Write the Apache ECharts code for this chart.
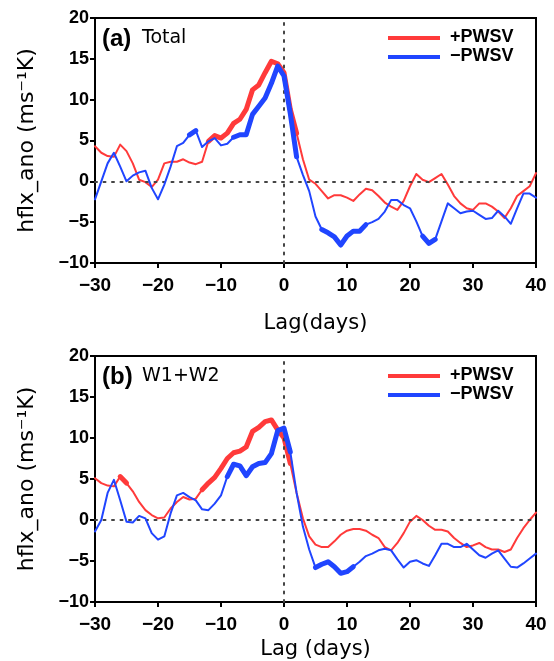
<!DOCTYPE html>
<html><head><meta charset="utf-8">
<script src="https://cdn.jsdelivr.net/npm/echarts@6/dist/echarts.min.js"></script>
<style>html,body{margin:0;padding:0;background:#fff}#c{width:554px;height:661px}</style>
</head><body><div id="c"></div>
<script>
// Lag (days)
const lags = [-30,-29,-28,-27,-26,-25,-24,-23,-22,-21,-20,-19,-18,-17,-16,-15,-14,-13,-12,-11,-10,-9,-8,-7,-6,-5,-4,-3,-2,-1,0,1,2,3,4,5,6,7,8,9,10,11,12,13,14,15,16,17,18,19,20,21,22,23,24,25,26,27,28,29,30,31,32,33,34,35,36,37,38,39,40];
const xTicks = [-30,-20,-10,0,10,20,30,40];
const yTicks = [-10,-5,0,5,10,15,20];

// (a) Total
const totalPos = [4.3,3.5,3.1,3.0,4.5,3.7,2.2,0.2,-0.1,-0.7,0.2,2.2,2.4,2.4,2.7,2.3,2.1,2.4,4.9,5.6,5.3,5.9,7.1,7.6,8.8,11.2,11.8,13.3,14.7,14.4,13.3,8.8,5.9,2.7,0.2,-0.3,-1.2,-2.1,-1.7,-1.7,-2.0,-2.4,-1.6,-0.9,-1.1,-1.8,-2.6,-3.1,-3.5,-2.4,-0.6,0.9,0.2,-0.1,0.4,0.9,-0.4,-1.8,-2.7,-3.3,-3.5,-2.7,-2.7,-3.1,-3.7,-4.5,-3.3,-1.8,-1.2,-0.6,1.0];
const totalNeg = [-2.2,0.0,2.2,3.5,1.8,0.0,0.7,1.1,1.3,-0.8,-2.2,-0.4,1.8,4.3,4.7,5.7,6.2,4.2,4.9,5.3,4.4,4.6,5.4,5.7,5.7,8.2,9.2,10.2,12.0,14.1,12.9,8.3,3.0,0.8,-1.2,-4.3,-5.9,-6.3,-6.8,-7.8,-6.7,-6.1,-6.1,-5.3,-5.0,-4.6,-3.7,-2.3,-2.3,-2.9,-3.3,-4.9,-6.7,-7.6,-7.1,-4.9,-2.7,-3.3,-3.9,-3.7,-3.6,-4.1,-4.6,-4.5,-3.6,-4.3,-5.2,-3.3,-1.5,-1.5,-2.0];
// significant lag ranges (thick segments)
const totalPosSig = [[-12,2]];
const totalNegSig = [[-15,-14],[-8,2],[6,13],[22,24]];

// (b) W1+W2
const w12Pos = [5.1,4.5,4.2,4.1,5.3,4.5,3.5,2.2,1.2,0.6,0.2,0.3,1.4,2.2,2.8,2.5,2.6,3.7,4.5,5.2,6.3,7.5,8.2,8.4,8.9,10.8,11.3,12.0,12.2,11.0,10.0,6.9,3.3,0.2,-2.0,-3.0,-3.3,-3.3,-2.6,-1.8,-1.3,-1.1,-1.1,-1.3,-1.8,-2.2,-3.3,-3.7,-2.8,-1.6,-0.2,0.5,0.0,-0.7,-1.2,-1.2,-1.4,-2.2,-2.8,-3.3,-3.1,-2.8,-3.3,-3.6,-3.6,-3.9,-3.6,-2.2,-1.0,0.0,0.9];
const w12Neg = [-1.4,0.0,3.3,4.9,2.4,-0.2,-0.3,0.5,0.2,-1.6,-2.4,-2.0,0.8,3.0,3.3,2.8,2.4,1.3,1.2,2.0,3.0,5.3,6.8,6.6,5.4,6.5,6.9,7.0,8.1,10.9,11.2,8.3,3.3,-0.8,-3.6,-5.8,-5.4,-5.1,-5.7,-6.5,-6.3,-5.7,-5.1,-4.4,-4.1,-3.7,-3.5,-3.7,-4.8,-5.8,-5.1,-4.9,-5.3,-5.6,-4.3,-2.9,-2.9,-3.3,-3.3,-2.9,-3.6,-4.3,-4.6,-4.1,-3.7,-4.7,-5.7,-5.8,-5.3,-4.7,-4.1];
const w12PosSig = [[-26,-25],[-13,1]];
const w12NegSig = [[-9,1],[5,11]];

const seriesNames = ['+PWSV', '\u2212PWSV'];
const panelTags = ['(a)', '(b)'];
const panelTitles = ['Total', 'W1+W2'];
const xNames = ['Lag(days)', 'Lag (days)'];
const yName = 'hflx_ano (ms\u207B\u00B9K)';

const RED = '#ff3a3a', BLUE = '#2045ff';
const FONT = 'Liberation Sans, Arial, sans-serif';
const WIDE = 'DejaVu Sans, sans-serif';

const panels = [
  {top: 18, height: 245, pos: totalPos, neg: totalNeg, posSig: totalPosSig, negSig: totalNegSig, nameGap: 50},
  {top: 356, height: 246, pos: w12Pos, neg: w12Neg, posSig: w12PosSig, negSig: w12NegSig, nameGap: 37}
];

function inSig(d, ranges) { return ranges.some(r => d >= r[0] && d <= r[1]); }
function fmt(v) { return String(v).replace('-', '\u2212'); }

const grid = [], xAxis = [], yAxis = [], series = [], graphic = [];
panels.forEach((p, i) => {
  grid.push({left: 95, width: 441, top: p.top, height: p.height, show: true, borderColor: '#000', borderWidth: 2,
    backgroundColor: 'transparent', containLabel: false, outerBoundsMode: 'none'});
  xAxis.push({
    gridIndex: i, type: 'value', min: -30, max: 40, interval: 10,
    axisLine: {show: true, onZero: false, lineStyle: {color: '#000', width: 2}},
    axisTick: {show: true, inside: false, length: 5, lineStyle: {color: '#000', width: 2}},
    axisLabel: {fontSize: 19, fontWeight: 'bold', color: '#000', margin: 13, fontFamily: FONT, formatter: fmt},
    splitLine: {show: false},
    name: xNames[i], nameLocation: 'middle', nameGap: p.nameGap,
    nameTextStyle: {fontSize: 21, color: '#000', fontFamily: WIDE}
  });
  yAxis.push({
    gridIndex: i, type: 'value', min: -10, max: 20, interval: 5,
    axisLine: {show: true, onZero: false, lineStyle: {color: '#000', width: 2}},
    axisTick: {show: true, inside: false, length: 5, lineStyle: {color: '#000', width: 2}},
    axisLabel: {fontSize: 18, fontWeight: 'bold', color: '#000', margin: 6, fontFamily: FONT, formatter: fmt},
    splitLine: {show: false},
    name: yName, nameLocation: 'middle', nameGap: 57,
    nameTextStyle: {fontSize: 22, color: '#000', fontFamily: WIDE}
  });
  const mk = (arr, sig) => lags.map((d, k) => [d, sig ? (inSig(d, sig) ? arr[k] : null) : arr[k]]);
  const base = {type: 'line', xAxisIndex: i, yAxisIndex: i, symbol: 'none', showSymbol: false, animation: false, silent: true, connectNulls: false};
  series.push(Object.assign({}, base, {
    name: seriesNames[0] + ' thin', data: mk(p.pos), z: 3,
    lineStyle: {color: RED, width: 2, cap: 'round', join: 'round'},
    markLine: {silent: true, symbol: 'none', label: {show: false}, animation: false,
      lineStyle: {color: '#444', type: [2, 6.5], width: 2, cap: 'round'},
      data: [{yAxis: 0}, {xAxis: 0}]}
  }));
  series.push(Object.assign({}, base, {
    name: seriesNames[0], data: mk(p.pos, p.posSig), z: 4,
    lineStyle: {color: RED, width: 5, cap: 'round', join: 'round'}
  }));
  series.push(Object.assign({}, base, {
    name: seriesNames[1] + ' thin', data: mk(p.neg), z: 5,
    lineStyle: {color: BLUE, width: 2, cap: 'round', join: 'round'}
  }));
  series.push(Object.assign({}, base, {
    name: seriesNames[1], data: mk(p.neg, p.negSig), z: 6,
    lineStyle: {color: BLUE, width: 5, cap: 'round', join: 'round'}
  }));
  const ty = p.top + 22;
  graphic.push({type: 'text', left: 102, top: ty - 13, style: {text: panelTags[i], font: 'bold 24px ' + FONT, fill: '#000'}});
  graphic.push({type: 'text', left: 142, top: ty - 11, style: {text: panelTitles[i], font: '19px ' + WIDE, fill: '#000'}});
  [RED, BLUE].forEach((c, j) => {
    const ly = p.top + 20 + j * 19;
    graphic.push({type: 'line', shape: {x1: 388, y1: ly, x2: 440, y2: ly}, style: {stroke: c, lineWidth: 4}});
    graphic.push({type: 'text', left: 450, top: ly - 10, style: {text: seriesNames[j], font: 'bold 18px ' + FONT, fill: '#000'}});
  });
});

const chart = echarts.init(document.getElementById('c'), null, {renderer: 'canvas'});
chart.setOption({animation: false, backgroundColor: '#fff', grid, xAxis, yAxis, series, graphic});
</script>
</body></html>
